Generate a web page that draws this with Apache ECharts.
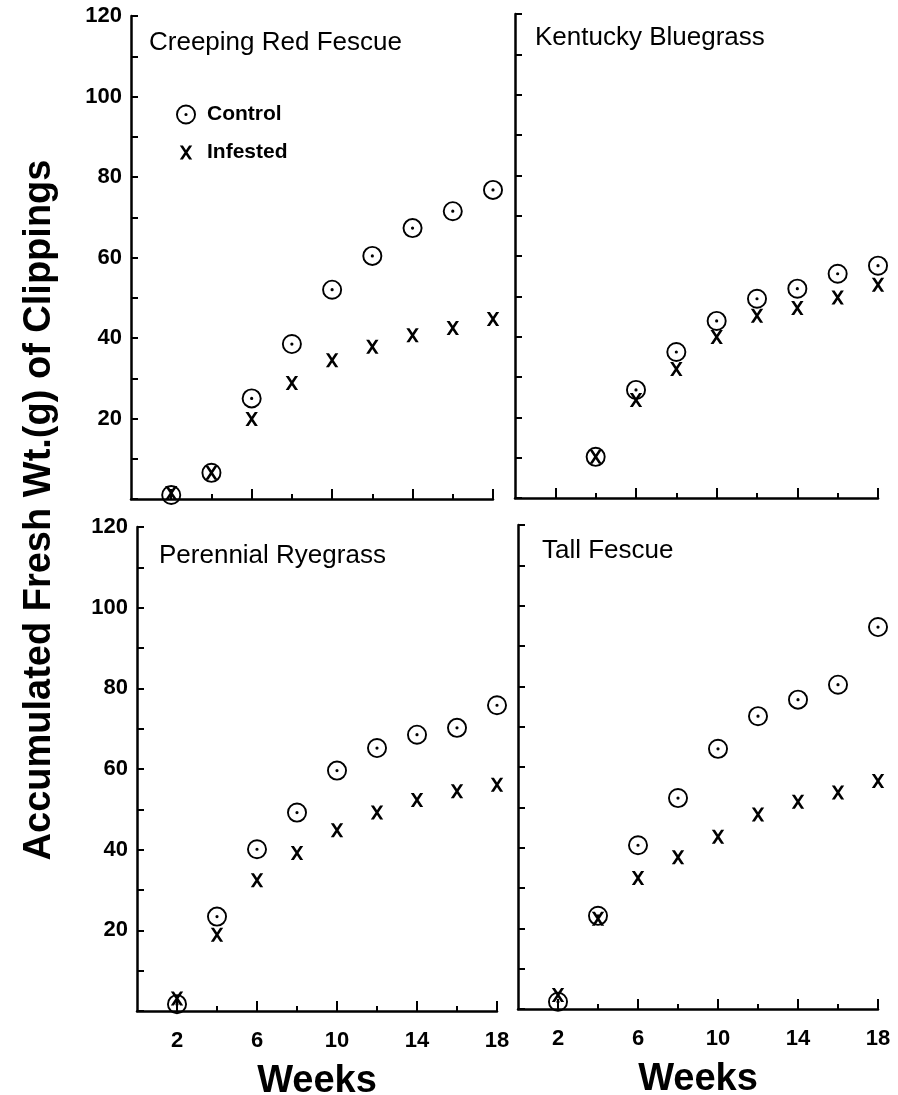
<!DOCTYPE html>
<html>
<head>
<meta charset="utf-8">
<script src="https://cdn.jsdelivr.net/npm/echarts@6/dist/echarts.min.js"></script>
<style>
  html, body { margin: 0; padding: 0; background: #fff; }
  #chart { width: 898px; height: 1095px; }
</style>
</head>
<body>
<div id="chart"></div>
<script>
// ---- data ----
const weeks = [2, 4, 6, 8, 10, 12, 14, 16, 18];
const panelTitles = ['Creeping Red Fescue', 'Kentucky Bluegrass', 'Perennial Ryegrass', 'Tall Fescue'];
const seriesNames = ['Control', 'Infested'];
const weekLabels = [2, 6, 10, 14, 18];
const weekMinorTicks = [4, 8, 12, 16];
const yLabelValues = [20, 40, 60, 80, 100, 120];

const creepingControl  = [1, 6.5, 25, 38.5, 52, 60.4, 67.3, 71.5, 76.8];
const creepingInfested = [1.5, 6.5, 19.9, 28.8, 34.5, 37.8, 40.7, 42.5, 44.7];
const kentuckyControl  = [null, 10.2, 26.8, 36.2, 43.9, 49.4, 51.9, 55.6, 57.6];
const kentuckyInfested = [null, 10.2, 24.3, 32, 39.9, 45.2, 47.1, 49.7, 52.9];
const ryegrassControl  = [1.7, 23.4, 40.1, 49.2, 59.6, 65.2, 68.5, 70.2, 75.8];
const ryegrassInfested = [3.1, 18.9, 32.4, 39.2, 44.8, 49.2, 52.3, 54.5, 56.1];
const tallControl      = [1.8, 23.1, 40.6, 52.3, 64.5, 72.6, 76.7, 80.4, 94.7];
const tallInfested     = [3.5, 22.4, 32.5, 37.6, 42.7, 48.2, 51.4, 53.7, 56.5];

const panelData = [
  [creepingControl, creepingInfested],
  [kentuckyControl, kentuckyInfested],
  [ryegrassControl, ryegrassInfested],
  [tallControl, tallInfested]
];

// ---- styling ----
const FONT = '"Liberation Sans", Arial, Helvetica, sans-serif';
const ringPath = 'path://M10 0A10 10 0 1 1 10 20A10 10 0 1 1 10 0Z' +
  'M10 1.9A8.1 8.1 0 1 0 10 18.1A8.1 8.1 0 1 0 10 1.9Z' +
  'M10 8.4A1.6 1.6 0 1 1 10 11.6A1.6 1.6 0 1 1 10 8.4Z';
const xPath = 'path://M0 0M20 20M3.8 3L6.9 3L16.2 17L13.1 17ZM13.1 3L16.2 3L6.9 17L3.8 17Z';
const symbols = [ringPath, xPath];

const gridRects = [
  { left: 131, top: 16, width: 362, height: 483 },
  { left: 515, top: 14, width: 363, height: 484 },
  { left: 137, top: 527, width: 360, height: 484 },
  { left: 518, top: 525, width: 360, height: 484 }
];
const titlePos = [
  { left: 149, top: 30 },
  { left: 535, top: 25 },
  { left: 159, top: 543 },
  { left: 542, top: 538 }
];

const grids = [], xAxes = [], yAxes = [], series = [], titles = [];
gridRects.forEach(r => grids.push(Object.assign({ outerBoundsMode: 'none', containLabel: false }, r)));
// overlay grids for the short x ticks
gridRects.forEach(r => grids.push(Object.assign({ outerBoundsMode: 'none', containLabel: false }, r)));

const axisLineStyle = { color: '#000', width: 2.5 };
gridRects.forEach((r, i) => {
  const bottomRow = i >= 2;
  const leftCol = i % 2 === 0;
  xAxes.push({
    type: 'value', gridIndex: i, min: 0, max: 18,
    axisLine: { show: true, onZero: false, lineStyle: axisLineStyle },
    axisTick: { show: true, inside: true, length: 10, customValues: weekLabels, lineStyle: { color: '#000', width: 2 } },
    axisLabel: { show: bottomRow, customValues: weekLabels, margin: 19, color: '#000', fontSize: 22, fontWeight: 'bold', fontFamily: FONT },
    splitLine: { show: false },
    name: bottomRow ? 'Weeks' : '',
    nameLocation: 'middle', nameGap: 52,
    nameTextStyle: { color: '#000', fontSize: 38, fontWeight: 'bold', fontFamily: FONT }
  });
  yAxes.push({
    type: 'value', gridIndex: i, min: 0, max: 120, interval: 10,
    axisLine: { show: true, onZero: false, lineStyle: axisLineStyle },
    axisTick: { show: true, inside: true, length: 7, lineStyle: { color: '#000', width: 2 } },
    axisLabel: {
      show: leftCol, margin: 9, color: '#000', fontSize: 22, fontWeight: 'bold', fontFamily: FONT,
      formatter: v => (yLabelValues.indexOf(v) >= 0 ? String(v) : '')
    },
    splitLine: { show: false }
  });
  titles.push({
    text: panelTitles[i], left: titlePos[i].left, top: titlePos[i].top, padding: 0,
    textStyle: { color: '#000', fontSize: 26, fontWeight: 'normal', fontFamily: FONT }
  });
  panelData[i].forEach((arr, k) => {
    series.push({
      name: seriesNames[k], type: 'scatter', xAxisIndex: i, yAxisIndex: i,
      symbol: symbols[k], symbolSize: 20,
      itemStyle: { color: '#000', opacity: 1 },
      emphasis: { disabled: true },
      data: weeks.map((w, j) => [w, arr[j]]).filter(d => d[1] !== null),
      z: k === 0 ? 3 : 4
    });
  });
});
gridRects.forEach((r, i) => {
  xAxes.push({
    type: 'value', gridIndex: 4 + i, min: 0, max: 18,
    axisLine: { show: false },
    axisTick: { show: true, inside: true, length: 5, customValues: weekMinorTicks, lineStyle: { color: '#000', width: 2 } },
    axisLabel: { show: false },
    splitLine: { show: false }
  });
  yAxes.push({ type: 'value', gridIndex: 4 + i, min: 0, max: 120, show: false });
});

const chart = echarts.init(document.getElementById('chart'), null, { renderer: 'canvas' });
chart.setOption({
  backgroundColor: '#fff',
  animation: false,
  title: titles,
  legend: {
    orient: 'vertical', left: 171, top: 99, itemWidth: 20, itemHeight: 20, itemGap: 17,
    itemStyle: { color: '#000' },
    textStyle: { color: '#000', fontSize: 21, fontWeight: 'bold', fontFamily: FONT, padding: [0, 0, 0, 6] },
    data: [{ name: 'Control', icon: ringPath }, { name: 'Infested', icon: xPath }],
    selectedMode: false
  },
  grid: grids,
  xAxis: xAxes,
  yAxis: yAxes,
  series: series,
  graphic: [{
    type: 'text', x: 40, y: 510, rotation: Math.PI / 2,
    style: {
      text: 'Accumulated Fresh Wt.(g) of Clippings', fill: '#000',
      font: 'bold 38px ' + FONT, align: 'center', verticalAlign: 'middle'
    }
  }]
});
</script>
</body>
</html>
